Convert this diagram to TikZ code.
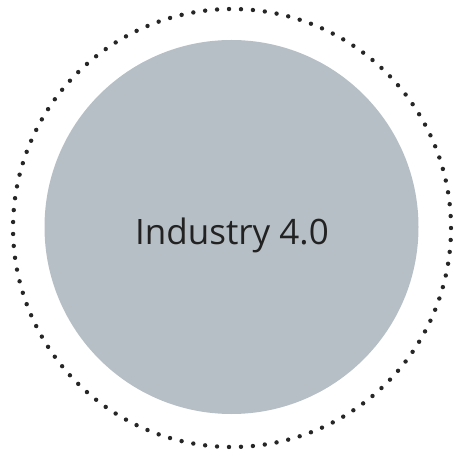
\documentclass[tikz,border=0pt]{standalone}
\usepackage{fontspec}
\setmainfont{Open Sans}
\usetikzlibrary{calc}
\definecolor{discfill}{HTML}{B7BFC6}
\definecolor{txt}{HTML}{222222}
\begin{document}
\begin{tikzpicture}[x=1pt,y=1pt,
  disc/.style={circle,fill=discfill,minimum size=374pt,inner sep=0pt},
  dotring/.style={fill=black!85},
  label/.style={text=txt,font=\fontsize{35}{37}\selectfont,anchor=base,inner sep=0pt}]
\useasboundingbox (0,0) rectangle (455,450);
\coordinate (c) at (232,222);
\node[disc] (core) at (231.5,223) {};
\foreach \i in {0,...,114}{
  \fill[dotring] ($(c)+({\i/115*360}:219)$) circle (2.2pt);
}
\node[label] (title) at (232,205) {Industry 4.0};
\end{tikzpicture}
\end{document}
